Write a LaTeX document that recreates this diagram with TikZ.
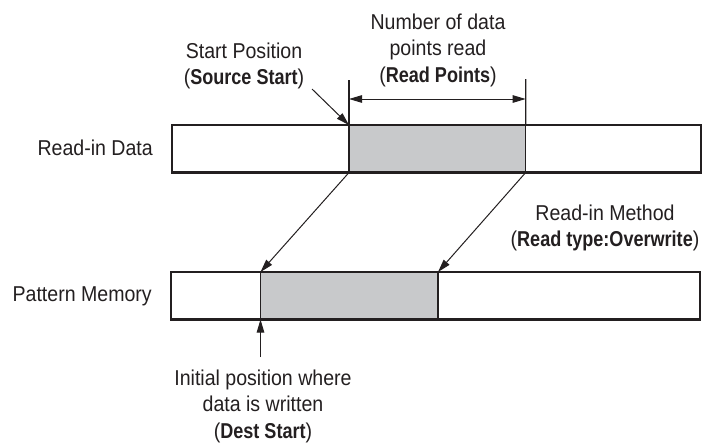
\documentclass[tikz,border=0pt]{standalone}
\usepackage{fontspec}
\setmainfont{Liberation Sans}[FakeStretch=0.91, BoldFeatures={FakeStretch=0.84}]
\usetikzlibrary{arrows.meta}
\definecolor{selgray}{RGB}{200,201,203}
\definecolor{ink}{RGB}{35,31,32}
\begin{document}
\begin{tikzpicture}[x=1pt,y=-1pt,
  lbl/.style={font=\fontsize{21.5}{26.5}\selectfont, align=center, inner sep=0pt, text=ink},
  bar/.style={draw=ink, line width=2.2pt, minimum height=47.5pt, inner sep=0pt, outer sep=0pt, anchor=north west},
  sel/.style={fill=selgray, draw=ink, line width=1.2pt, minimum height=47.5pt, inner sep=0pt, outer sep=0pt, anchor=north west},
  arr/.style={draw=ink, line width=1pt, -{Triangle[length=13pt,width=7.5pt]}},
  thin/.style={draw=ink, line width=1.2pt}]
\useasboundingbox (0,0) rectangle (704,445);
% top bar
\node[sel, minimum width=176.7pt] (topsel) at (349,125) {};
\node[bar, minimum width=529pt] (topbar) at (172,125) {};
% bottom bar
\node[sel, minimum width=177.5pt] (botsel) at (260.5,272) {};
\node[bar, minimum width=529pt] (botbar) at (171,272) {};
% labels
\node[lbl] (startlbl) at (244,66) {Start Position\\(\textbf{Source Start})};
\node[lbl] (numlbl) at (438,50) {Number of data\\points read\\(\textbf{Read Points})};
\node[lbl, anchor=east] (rid) at (153,148) {Read-in Data};
\node[lbl, anchor=east] (pm) at (152,296) {Pattern Memory};
\node[lbl] (method) at (605,228) {Read-in Method\\(\textbf{Read type:Overwrite})};
\node[lbl] (dest) at (263,406) {Initial position where\\data is written\\(\textbf{Dest Start})};
% dimension
\coordinate (d1) at (349,80);
\coordinate (d2) at (525.7,79);
\coordinate (a1) at (349,99);
\coordinate (a2) at (525.7,99);
\draw[thin] (d1) -- (topsel.north west);
\draw[thin] (d2) -- (topsel.north east);
\draw[draw=ink, line width=1pt, {Triangle[length=13pt,width=7.5pt]}-{Triangle[length=13pt,width=7.5pt]}] (a1) -- (a2);
% arrows
\coordinate (sp) at (312,89);
\draw[arr] (sp) -- (topsel.north west);
\draw[arr] (topsel.south west) -- (botsel.north west);
\draw[arr] (topsel.south east) -- (botsel.north east);
\coordinate (dt) at (260.5,357);
\draw[arr] (dt) -- (botsel.south west);
\end{tikzpicture}
\end{document}
